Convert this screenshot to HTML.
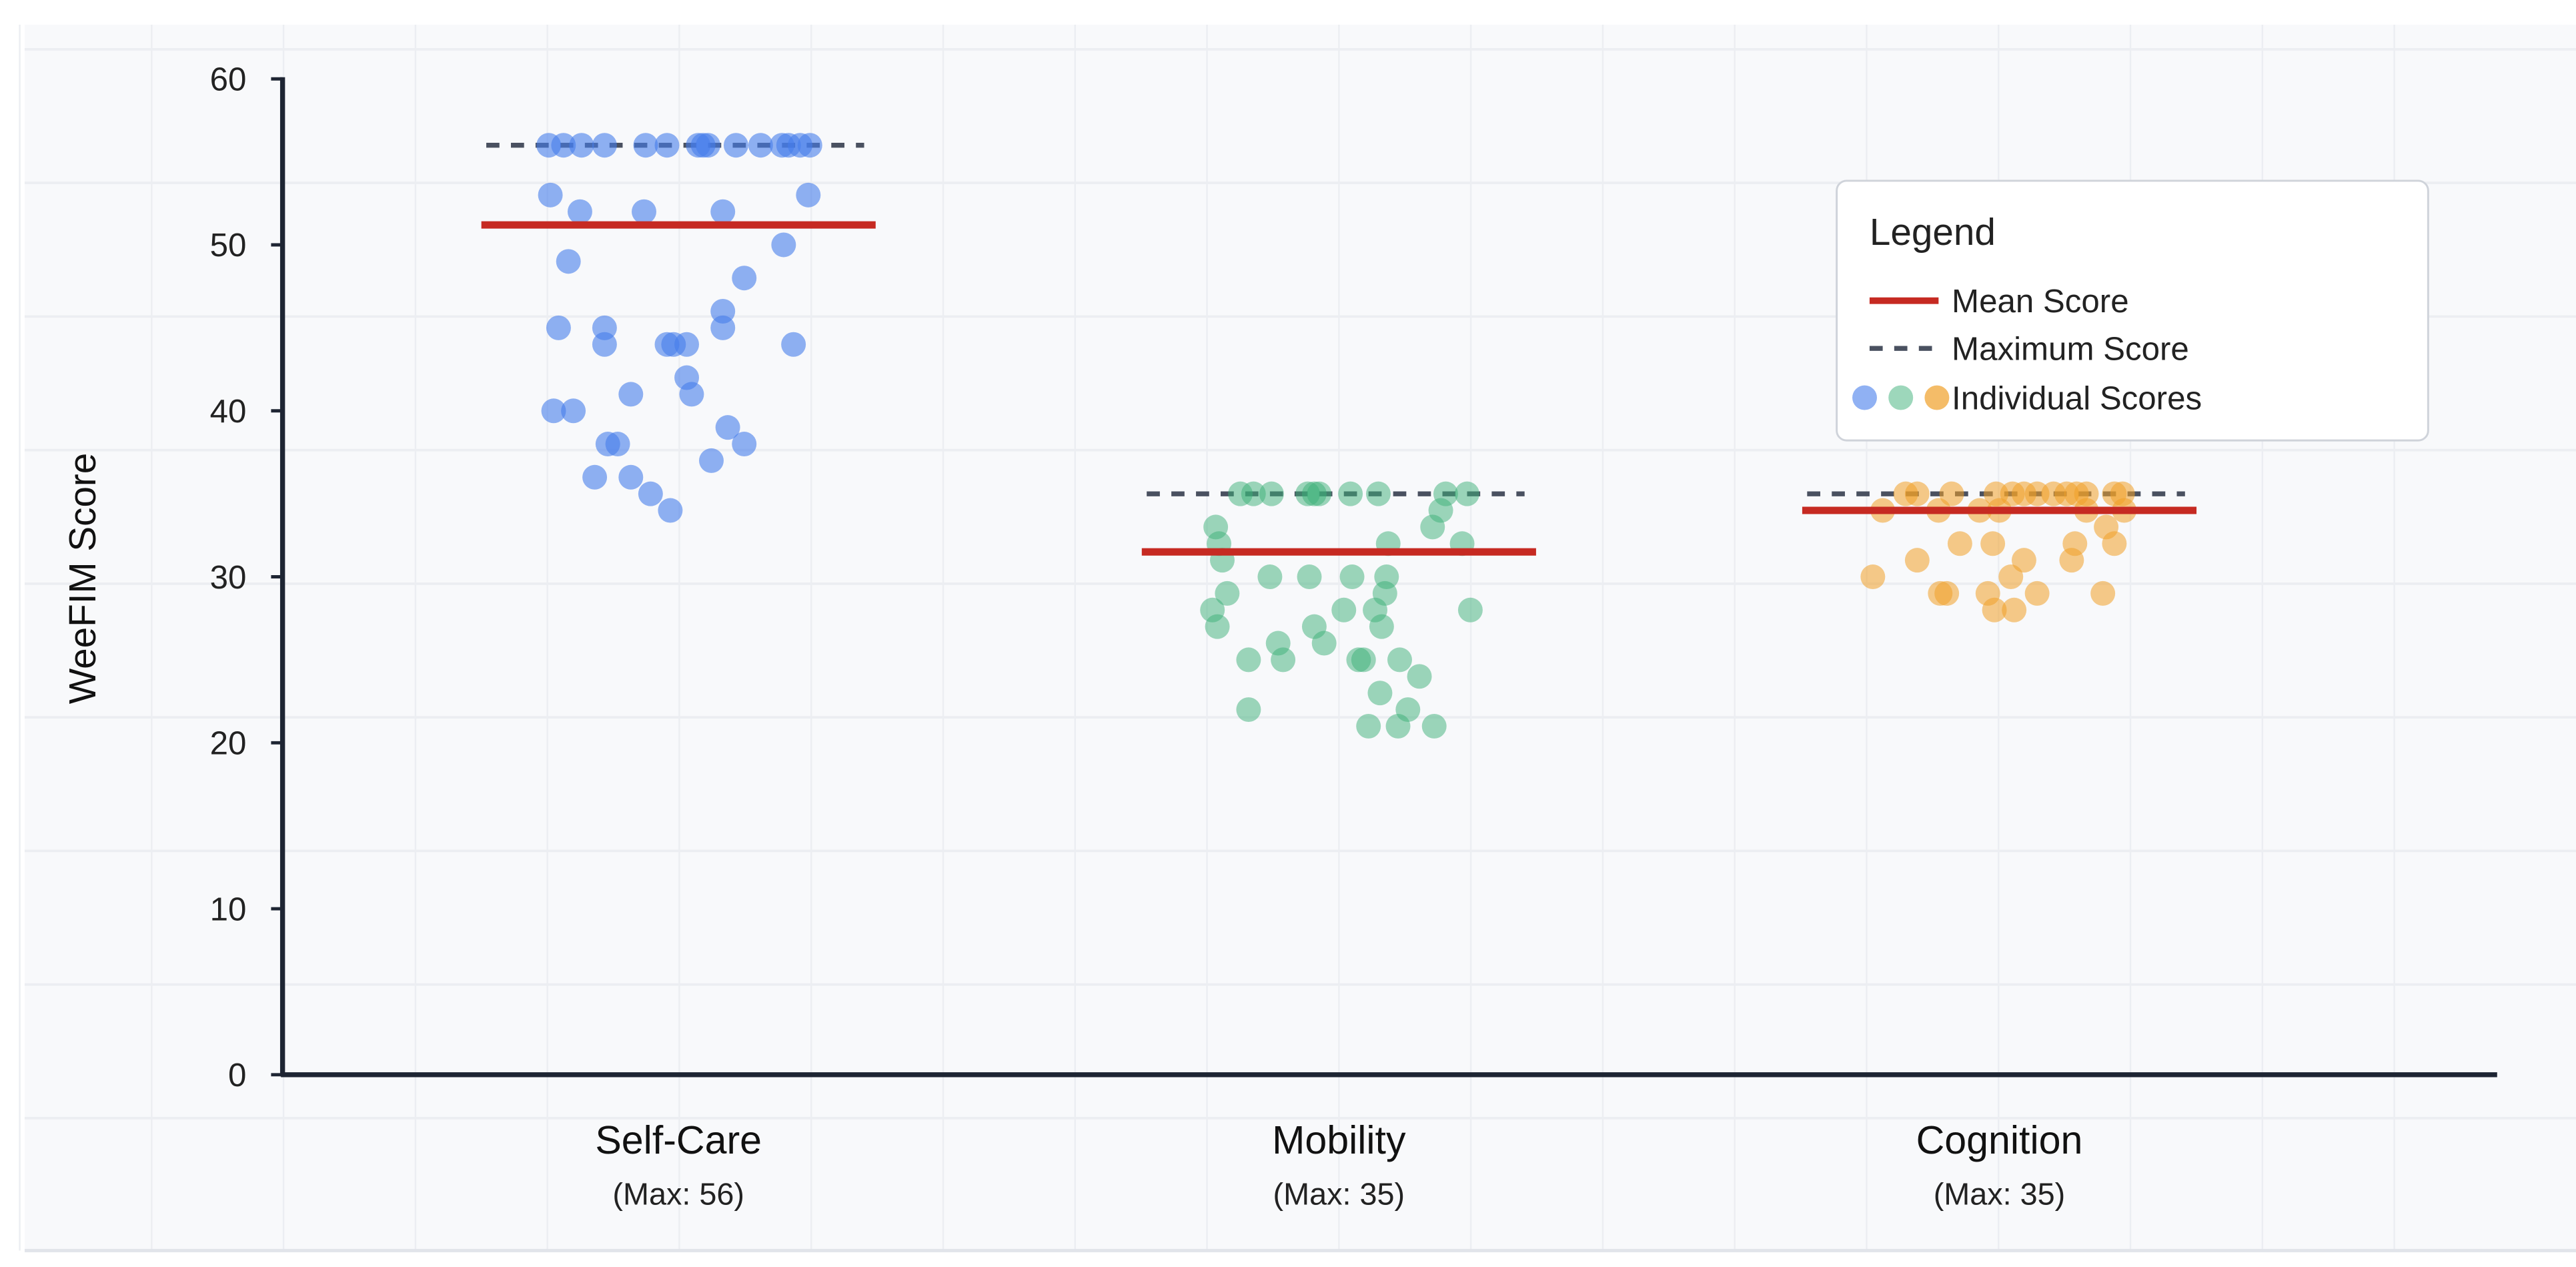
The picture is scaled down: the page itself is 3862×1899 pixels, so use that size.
<!DOCTYPE html>
<html><head><meta charset="utf-8"><style>
html,body{margin:0;padding:0;background:#fff;}
svg{display:block;font-family:"Liberation Sans",sans-serif;}
</style></head><body>
<svg id="chart" width="3862" height="1899" viewBox="0 0 1568 771" preserveAspectRatio="none" xmlns="http://www.w3.org/2000/svg">
<rect x="15" y="15" width="1553" height="746" fill="#f8f9fb"/>
<g id="grid"></g>
<g id="marks"></g>
<g id="axes"></g>
<text transform="translate(58,352) rotate(-90)" text-anchor="middle" font-size="23" fill="#111">WeeFIM Score</text>
<g>
<rect x="1118" y="110" width="360" height="158" rx="6" fill="#fff" stroke="#cfd3da" stroke-width="1.2"/>
<text x="1138" y="149" font-size="23" fill="#222">Legend</text>
<line x1="1138" y1="183" x2="1180" y2="183" stroke="#c62a22" stroke-width="4"/>
<text x="1188" y="190" font-size="20" fill="#222">Mean Score</text>
<line x1="1138" y1="212" x2="1180" y2="212" stroke="#4a5160" stroke-width="3" stroke-dasharray="8,7"/>
<text x="1188" y="219" font-size="20" fill="#222">Maximum Score</text>
<circle cx="1135" cy="242" r="7.5" fill="rgba(70,125,235,0.6)"/>
<circle cx="1157" cy="242" r="7.5" fill="rgba(60,175,120,0.5)"/>
<circle cx="1179" cy="242" r="7.5" fill="rgba(240,160,40,0.7)"/>
<text x="1188" y="249" font-size="20" fill="#222">Individual Scores</text>
</g>
</svg>
<script>
const categories = ["Self-Care","Mobility","Cognition"];
const maxScores = [56,35,35];
const meanScores = [51.2,31.5,34.0];
const yTicks = [0,10,20,30,40,50,60];
const selfCareScores = [56,56,56,56,56,56,56,56,56,56,56,56,56,56,56,53,53,52,52,52,50,49,48,46,45,45,45,44,44,44,44,44,42,41,41,40,40,39,38,38,38,37,36,36,35,34];
const selfCareJitter = [-79,-70,-59,-45,-20,-7,12,15,18,35,50,63,67,74,80,-78,79,-60,-21,27,64,-67,40,27,-73,-45,27,-45,-7,-3,5,70,5,-29,8,-76,-64,30,-43,-37,40,20,-51,-29,-17,-5];
const mobilityScores = [35,35,35,35,35,35,35,35,35,35,34,33,33,32,32,32,31,30,30,30,30,29,29,28,28,28,28,27,27,27,26,26,25,25,25,25,25,24,23,22,22,21,21,21];
const mobilityJitter = [-60,-52,-41,-19,-15,-12,7,24,65,78,62,-75,57,-73,30,75,-71,-42,-18,8,29,-68,28,-77,3,22,80,-74,-15,26,-37,-9,-55,-34,12,15,37,49,25,-55,42,18,36,58];
const cognitionScores = [35,35,35,35,35,35,35,35,35,35,35,35,35,34,34,34,34,34,34,33,32,32,32,32,31,31,31,30,30,29,29,29,29,29,28,28];
const cognitionJitter = [-57,-50,-29,-2,8,15,23,33,41,47,53,70,75,-71,-37,-12,0,53,76,65,-24,-4,46,70,-50,15,44,-77,7,-36,-32,-7,23,63,-3,9];
const pointColors = ["rgba(70,125,235,0.6)","rgba(60,175,120,0.5)","rgba(240,160,40,0.55)"];

const NS="http://www.w3.org/2000/svg";
const y = v => 654 - v*(606/60);
const x = i => 413 + i*402;
function mk(tag, attrs, parent){const e=document.createElementNS(NS,tag);for(const k in attrs)e.setAttribute(k,attrs[k]);parent.appendChild(e);return e;}
const grid=document.getElementById('grid'), marks=document.getElementById('marks'), axes=document.getElementById('axes');
for(let k=0;k<19;k++){const gx=12+k*80.3;const l=mk('line',{x1:gx,y1:15,x2:gx,y2:761,stroke:'#eceef2','stroke-width':1},grid);}
for(let k=0;k<9;k++){const gy=30+k*81.3;const l=mk('line',{x1:15,y1:gy,x2:1568,y2:gy,stroke:'#eceef2','stroke-width':1.5},grid);}
const bl=mk('line',{x1:15,y1:761,x2:1568,y2:761,stroke:'#e1e4ea','stroke-width':2},grid);



const series=[[selfCareScores,selfCareJitter],[mobilityScores,mobilityJitter],[cognitionScores,cognitionJitter]];
series.forEach((s,i)=>{
  const ml=mk('line',{x1:x(i)-117,y1:y(maxScores[i]),x2:x(i)+113,y2:y(maxScores[i]),stroke:'#4a5160','stroke-width':3,'stroke-dasharray':'8,7'},marks);
  
  
  s[0].forEach((v,j)=>{
    const c=mk('circle',{cx:x(i)+s[1][j],cy:y(v),r:7.5,fill:pointColors[i]},marks);
    
    
  });
  const mn=mk('line',{x1:x(i)-120,y1:y(meanScores[i]),x2:x(i)+120,y2:y(meanScores[i]),stroke:'#c62a22','stroke-width':4.5},marks);
  
  
  const t=mk('text',{x:x(i),y:702,'text-anchor':'middle','font-size':24,fill:'#111'},axes);t.textContent=categories[i];
  
  
  const t2=mk('text',{x:x(i),y:733,'text-anchor':'middle','font-size':19,fill:'#222'},axes);t2.textContent='(Max: '+maxScores[i]+')';
  
  
});
const ya=mk('line',{x1:172,y1:47,x2:172,y2:655,stroke:'#1e2533','stroke-width':3},axes);


const xa=mk('line',{x1:171,y1:654,x2:1520,y2:654,stroke:'#1e2533','stroke-width':3},axes);


yTicks.forEach(v=>{
  const tk=mk('line',{x1:165,y1:y(v),x2:172,y2:y(v),stroke:'#1e2533','stroke-width':2},axes);
  
  
  const tl=mk('text',{x:150,y:y(v)+7,'text-anchor':'end','font-size':20,fill:'#222'},axes);tl.textContent=v;
  
  
});
</script>
</body></html>
